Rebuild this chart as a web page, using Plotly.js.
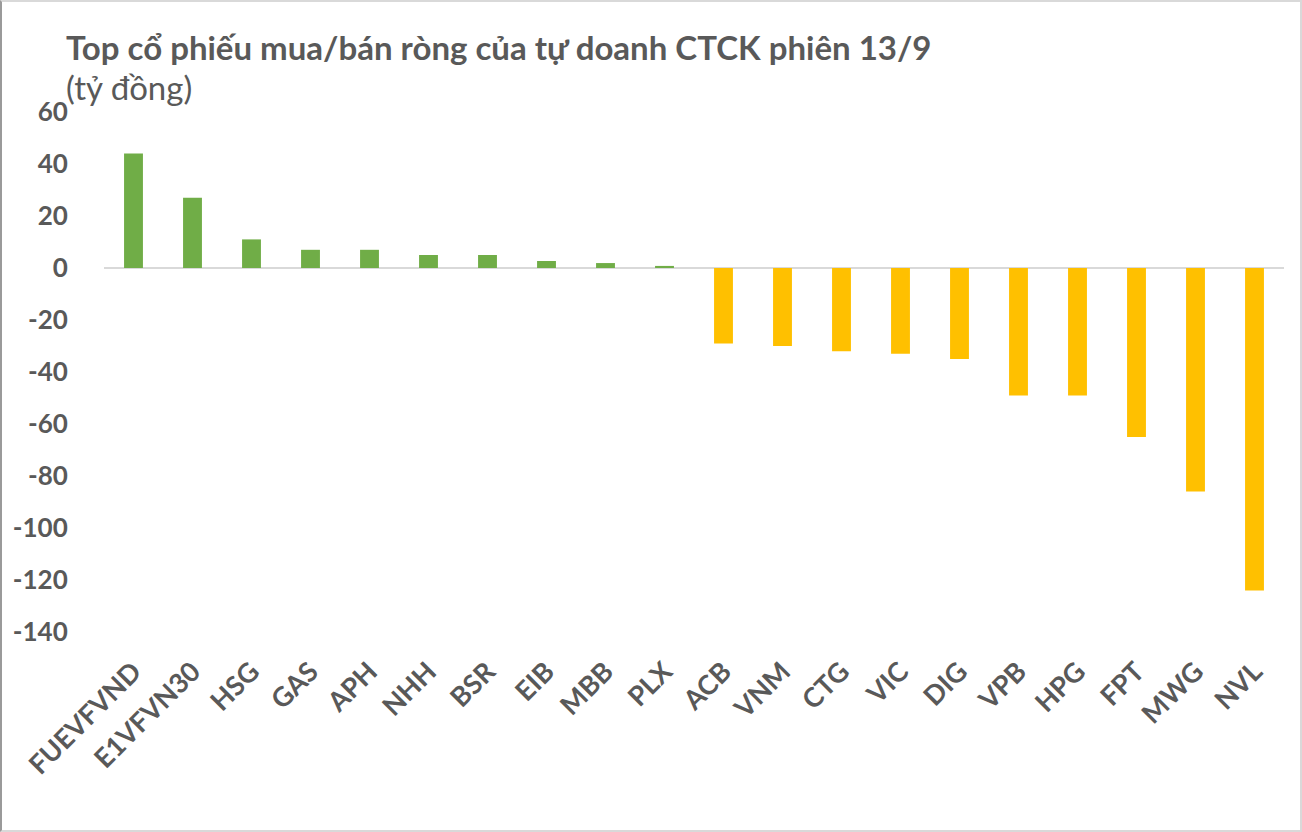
<!DOCTYPE html>
<html>
<head>
<meta charset="utf-8">
<script src="https://cdn.plot.ly/plotly-3.0.1.min.js"></script>
<style>
  html, body { margin: 0; padding: 0; background: #fff; }
  #chart { width: 1302px; height: 832px; box-sizing: border-box; border: 2px solid #d9d9d9; border-left-color: #9a9a9a; }
</style>
</head>
<body>
<div id="chart"></div>
<script>
const buyTickers = ["FUEVFVND", "E1VFVN30", "HSG", "GAS", "APH", "NHH", "BSR", "EIB", "MBB", "PLX"];
const buyValues = [44, 27, 11, 7, 7, 5, 5, 2.7, 1.9, 0.8];
const sellTickers = ["ACB", "VNM", "CTG", "VIC", "DIG", "VPB", "HPG", "FPT", "MWG", "NVL"];
const sellValues = [-29, -30, -32, -33, -35, -49, -49, -65, -86, -124];
const yTicks = [60, 40, 20, 0, -20, -40, -60, -80, -100, -120, -140];

const allTickers = buyTickers.concat(sellTickers);
const fontFam = "Lato, 'Open Sans', sans-serif";
const textColor = "#595959";

const data = [
  { type: "bar", x: buyTickers, y: buyValues, marker: { color: "#70AD47" }, hoverinfo: "x+y" },
  { type: "bar", x: sellTickers, y: sellValues, marker: { color: "#FFC000" }, hoverinfo: "x+y" }
];

const layout = {
  width: 1298, height: 828,
  margin: { l: 102, r: 16, t: 110, b: 198 },
  paper_bgcolor: "#ffffff", plot_bgcolor: "#ffffff",
  showlegend: false,
  barmode: "overlay",
  bargap: 0.68,
  font: { family: fontFam, color: textColor },
  xaxis: {
    type: "category",
    categoryorder: "array", categoryarray: allTickers,
    tickangle: -45,
    tickfont: { family: fontFam, size: 27, color: textColor, weight: "bold" },
    ticks: "outside", ticklen: 12, tickcolor: "rgba(0,0,0,0)",
    showgrid: false, showline: false, zeroline: false,
    fixedrange: true
  },
  yaxis: {
    range: [-140, 60],
    tickvals: yTicks,
    ticktext: yTicks.map(String),
    tickfont: { family: fontFam, size: 26, color: textColor, weight: "bold" },
    ticks: "outside", ticklen: 30, tickcolor: "rgba(0,0,0,0)",
    showgrid: false, showline: false,
    zeroline: true, zerolinecolor: "#d9d9d9", zerolinewidth: 2,
    fixedrange: true
  },
  annotations: [
    { xref: "paper", yref: "paper", x: -0.034, y: 1.125, xanchor: "left", yanchor: "middle",
      text: "<b>Top cổ phiếu mua/bán ròng của tự doanh CTCK phiên 13/9</b>", showarrow: false,
      font: { family: fontFam, size: 33, color: textColor } },
    { xref: "paper", yref: "paper", x: -0.034, y: 1.048, xanchor: "left", yanchor: "middle",
      text: "(tỷ đồng)", showarrow: false,
      font: { family: fontFam, size: 33, color: textColor } }
  ]
};

Plotly.newPlot("chart", data, layout, { displayModeBar: false, staticPlot: true });
</script>
</body>
</html>
